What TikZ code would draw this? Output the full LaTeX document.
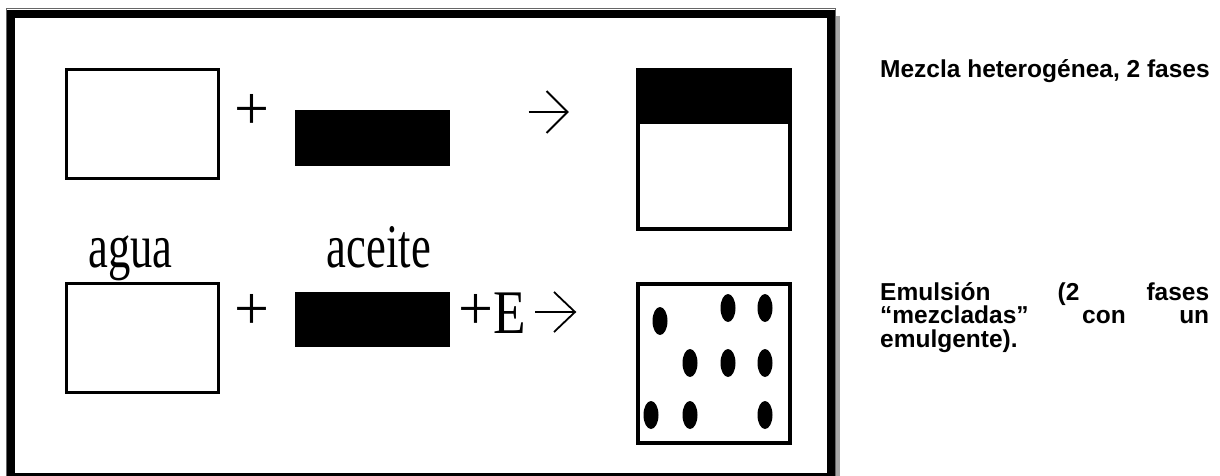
\documentclass[tikz,border=0pt]{standalone}
\usepackage{fontspec}
\usepackage{graphicx}
\setmainfont{Liberation Sans}
\newfontfamily\tnr{Liberation Serif}
\begin{document}
\begin{tikzpicture}[x=1pt,y=-1pt,
  frame/.style={draw=black, line width=8pt},
  wbox/.style={draw=black, line width=3pt, fill=white, minimum width=152pt, minimum height=109pt, inner sep=0pt},
  oil/.style={fill=black, minimum width=155pt, inner sep=0pt},
  rbox/.style={draw=black, line width=4pt, fill=white, minimum width=152pt, minimum height=159pt, inner sep=0pt},
  serif/.style={font=\tnr\fontsize{62}{62}\selectfont, inner sep=0pt},
  lbl/.style={font=\bfseries\fontsize{24.5}{25}\selectfont, inner sep=0pt, anchor=base west},
  arr/.style={line width=1.8pt, line join=miter},
  drop/.style={fill=black}
]
\useasboundingbox (0,0) rectangle (1220,476);
\begin{scope}
\clip (0,0) rectangle (1220,476);
% frame with shadow
\draw[black!35, line width=4pt] (837.5,16) -- (837.5,476);
\draw[black!60, line width=1pt] (6,9) rectangle (835.5,482);
\draw[frame] (11,14) rectangle (831,476.5);

% top row
\node[wbox] (agua1) at (142.5,124) {};
\node[serif] (plus1) at (252,112) {+};
\node[oil, minimum height=56pt] (aceite1) at (372.5,138) {};
\coordinate (a1s) at (528.5,112);
\coordinate (a1e) at (567.5,112);
\draw[arr] (a1s) -- (a1e);
\draw[arr] ([shift={(-21,-21)}]a1e) -- (a1e) -- ([shift={(-21,21)}]a1e);
\node[rbox] (mix) at (714,149.5) {};
\fill[black] (mix.north west) rectangle ([yshift=-56pt]mix.north east);
\draw[line width=4pt] (638,70) rectangle (790,229);

% labels
\node[serif, anchor=base] (lagua) at (130.5,267) {\scalebox{0.72}[1]{agua}};
\node[serif, anchor=base] (laceite) at (379,267) {\scalebox{0.72}[1]{aceite}};

% bottom row
\node[wbox] (agua2) at (142.5,338) {};
\node[serif] (plus2) at (252,312) {+};
\node[oil, minimum height=55pt] (aceite2) at (372.5,319.5) {};
\node[serif] (plus3) at (475.5,312) {+};
\node[serif, anchor=base] (ene) at (509.5,333) {\scalebox{0.86}[1]{E}};
\coordinate (a2s) at (535,312);
\coordinate (a2e) at (575,312);
\draw[arr] (a2s) -- (a2e);
\draw[arr] ([shift={(-21,-20)}]a2e) -- (a2e) -- ([shift={(-21,20)}]a2e);
\node[rbox] (emul) at (714,363.5) {};

% droplets
\foreach \x/\y in {660/321, 728/308, 765/308, 690/363, 728/363, 765/363, 651/415, 690/415, 765/415}
  \fill[drop] (\x,\y) ellipse [x radius=7.5pt, y radius=14pt];

% right texts
\node[lbl] (t1) at (880,78) {Mezcla heterogénea, 2 fases};
\node[lbl] (t2) at (880,300) {\makebox[329pt][s]{Emulsión (2 fases}};
\node[lbl] (t3) at (880,323.5) {\makebox[329pt][s]{“mezcladas” con un}};
\node[lbl] (t4) at (880,347) {emulgente).};
\end{scope}
\end{tikzpicture}
\end{document}
